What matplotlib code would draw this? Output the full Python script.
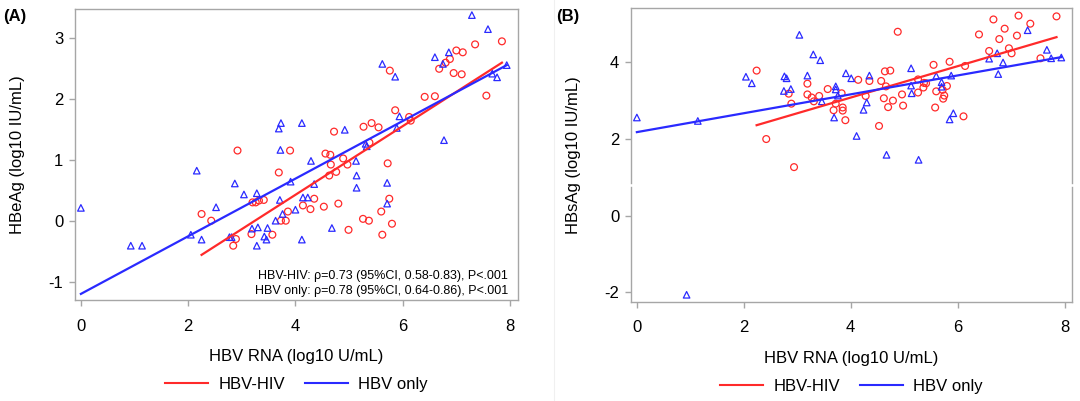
import matplotlib
matplotlib.use("Agg")
import matplotlib.pyplot as plt
from matplotlib.lines import Line2D

plt.rcParams['font.family'] = ['Liberation Sans', 'DejaVu Sans']
plt.rcParams['axes.unicode_minus'] = False

# ---------------- data ----------------
# Panel A: HBeAg vs HBV RNA
a_hiv_x = [2.92, 2.25, 2.43, 2.89, 2.84, 3.18, 3.20, 3.26, 3.32, 3.41,
           7.85, 7.35, 7.00, 7.12, 6.88, 6.80, 6.68, 6.95, 7.10, 7.56, 6.41, 6.60,
           5.76, 5.86, 6.12, 6.15, 5.42, 5.27, 5.55, 4.72, 3.90, 4.56, 4.65, 4.89,
           4.66, 4.97, 4.76, 4.63, 3.69, 5.38, 5.72, 4.35, 5.75, 4.14, 4.28, 4.53,
           4.80, 3.86, 3.82, 3.73, 3.57, 5.26, 5.37, 4.99, 5.60, 5.62, 5.80]
a_hiv_y = [1.16, 0.12, 0.01, -0.29, -0.40, -0.21, 0.31, 0.31, 0.34, 0.35,
           2.95, 2.90, 2.80, 2.77, 2.66, 2.60, 2.50, 2.43, 2.41, 2.06, 2.04, 2.05,
           2.47, 1.82, 1.71, 1.65, 1.61, 1.55, 1.54, 1.47, 1.16, 1.11, 1.09, 1.03,
           0.93, 0.93, 0.81, 0.75, 0.80, 1.29, 0.95, 0.37, 0.37, 0.26, 0.20, 0.24,
           0.29, 0.16, 0.01, 0.01, -0.22, 0.04, 0.01, -0.14, 0.16, -0.22, -0.04]

a_only_x = [0.00, 0.93, 1.14, 2.05, 2.16, 2.25, 2.52, 2.77, 2.81, 2.87, 3.04, 3.19,
            3.28, 3.30, 3.28, 3.42, 3.46, 3.48,
            7.29, 7.59, 7.94, 7.67, 7.76, 6.60, 6.86, 6.75, 5.62, 5.86, 6.77, 5.94,
            5.89, 3.73, 3.69, 4.12, 3.72, 4.92, 4.29, 3.91, 4.35, 3.71, 4.14, 4.23,
            4.00, 3.76, 3.63, 4.12, 4.68, 5.13, 5.14, 5.14, 5.71, 5.71, 5.31, 5.33]
a_only_y = [0.22, -0.40, -0.40, -0.22, 0.83, -0.30, 0.23, -0.26, -0.26, 0.62, 0.44, -0.12,
            0.46, -0.10, -0.40, -0.25, -0.30, -0.11,
            3.38, 3.15, 2.56, 2.42, 2.36, 2.69, 2.77, 2.58, 2.58, 2.37, 1.33, 1.72,
            1.53, 1.61, 1.52, 1.61, 1.17, 1.50, 0.99, 0.65, 0.61, 0.35, 0.39, 0.39,
            0.19, 0.12, 0.01, -0.30, -0.11, 0.99, 0.75, 0.55, 0.63, 0.29, 1.27, 1.23]

# fitted lines (end points)
a_fit_hiv_x = [2.25, 7.85]
a_fit_hiv_y = [-0.55, 2.60]
a_fit_only_x = [0.00, 7.94]
a_fit_only_y = [-1.19, 2.56]

# Panel B: HBsAg vs HBV RNA
b_hiv_x = [2.24, 2.42, 2.94, 2.84, 2.89, 3.19, 3.19, 3.27, 3.31, 3.41, 3.57,
           3.83, 3.72, 3.68, 3.85, 3.85, 3.90, 4.14, 4.35, 4.28, 4.57, 4.64, 4.66,
           4.62, 4.70, 4.53, 4.88, 4.74, 4.79, 4.96, 4.98, 5.26, 5.26, 5.37, 5.41,
           5.36, 5.55, 5.85, 6.14, 5.60, 5.80, 5.72, 5.75, 5.73, 5.58, 6.11, 6.40,
           6.67, 6.88, 6.78, 6.59, 7.14, 7.36, 7.11, 6.96, 7.01, 7.85, 7.55]
b_hiv_y = [3.77, 1.99, 1.26, 3.17, 2.91, 3.43, 3.15, 3.07, 2.97, 3.11, 3.29,
           3.18, 2.91, 2.74, 2.81, 2.73, 2.48, 3.53, 3.50, 3.11, 3.50, 3.75, 3.36,
           3.05, 2.82, 2.33, 4.78, 3.77, 2.99, 3.15, 2.86, 3.54, 3.20, 3.45, 3.44,
           3.33, 3.92, 4.00, 3.89, 3.23, 3.37, 3.27, 3.12, 3.04, 2.81, 2.58, 4.71,
           5.10, 4.86, 4.59, 4.28, 5.20, 4.99, 4.68, 4.35, 4.22, 5.18, 4.09]

b_only_x = [0.00, 1.14, 0.93, 2.04, 2.15, 2.76, 2.80, 2.75, 2.88, 3.04, 3.19, 3.30,
            3.43, 3.46, 3.91, 4.01, 4.35, 3.72, 3.72, 3.76, 4.30, 4.24, 3.69, 4.11,
            4.67, 5.13, 5.13, 5.14, 5.60, 5.70, 5.70, 5.88, 5.92, 5.85, 5.27, 6.59,
            6.74, 6.85, 6.76, 7.31, 7.67, 7.75, 7.94]
b_only_y = [2.55, 2.46, -2.06, 3.61, 3.44, 3.62, 3.57, 3.24, 3.29, 4.70, 3.64, 4.19,
            4.04, 2.97, 3.70, 3.57, 3.64, 3.36, 3.28, 3.12, 2.94, 2.75, 2.55, 2.07,
            1.58, 3.83, 3.38, 3.18, 3.63, 3.47, 3.35, 3.64, 2.66, 2.50, 1.45, 4.08,
            4.22, 3.98, 3.68, 4.82, 4.31, 4.09, 4.11]

b_fit_hiv_x = [2.24, 7.85]
b_fit_hiv_y = [2.35, 4.64]
b_fit_only_x = [0.00, 7.94]
b_fit_only_y = [2.17, 4.12]

x_ticks = [0, 2, 4, 6, 8]
a_y_ticks = [-1, 0, 1, 2, 3]
b_y_ticks = [-2, 0, 2, 4]

series_names = ["HBV-HIV", "HBV only"]
x_label = "HBV RNA (log10 U/mL)"
a_y_label = "HBeAg (log10 IU/mL)"
b_y_label = "HBsAg (log10 IU/mL)"
a_notes = ["HBV-HIV: \u03c1=0.73 (95%CI, 0.58-0.83), P<.001",
           "HBV only: \u03c1=0.78 (95%CI, 0.64-0.86), P<.001"]

# ---------------- style ----------------
RED = '#ff2a2a'
BLUE = '#2a2aff'
FRAME = '#a6a6a6'

fig = plt.figure(figsize=(10.8, 4.01), dpi=100)
W, H = 1080, 401

def px_axes(l, t, r, b):
    return fig.add_axes([l / W, 1 - b / H, (r - l) / W, (b - t) / H])

axA = px_axes(75, 9, 518, 300)
axB = px_axes(631, 8.3, 1072, 301.7)

def style(ax, xl, yl, yt, ylabel, ylab_x):
    for s in ax.spines.values():
        s.set_color(FRAME)
        s.set_linewidth(1.0)
    ax.set_xlim(*xl)
    ax.set_ylim(*yl)
    ax.set_xticks(x_ticks)
    ax.set_yticks(yt)
    ax.tick_params(axis='both', direction='out', length=4.5, width=1.0,
                   color=FRAME, labelsize=12, labelcolor='black')
    ax.tick_params(axis='x', pad=9)
    ax.tick_params(axis='y', pad=4)
    ax.set_xlabel(x_label, fontsize=12)
    ax.xaxis.set_label_coords(0.5, -0.168)
    ax.set_ylabel(ylabel, fontsize=12)
    ax.yaxis.set_label_coords(ylab_x, 0.5)

def draw(ax, hx, hy, ox, oy, fhx, fhy, fox, foy):
    ax.scatter(hx, hy, s=24, marker='o', facecolors='none', edgecolors=RED,
               linewidths=0.9, zorder=3)
    ax.scatter(ox, oy, s=22, marker='^', facecolors='none', edgecolors=BLUE,
               linewidths=0.9, zorder=3)
    ax.plot(fhx, fhy, color=RED, lw=1.6, zorder=4)
    ax.plot(fox, foy, color=BLUE, lw=1.6, zorder=4)
    handles = [Line2D([], [], color=RED, lw=1.5), Line2D([], [], color=BLUE, lw=1.5)]
    ax.legend(handles, series_names, loc='center', bbox_to_anchor=(0.5, -0.29),
              ncol=2, frameon=False, fontsize=12, handlelength=2.6,
              handletextpad=0.6, columnspacing=1.2)

style(axA, (-0.11, 8.15), (-1.29, 3.48), a_y_ticks, a_y_label, -0.113)
draw(axA, a_hiv_x, a_hiv_y, a_only_x, a_only_y,
     a_fit_hiv_x, a_fit_hiv_y, a_fit_only_x, a_fit_only_y)
axA.text(0.977, 0.082, a_notes[0], transform=axA.transAxes, ha='right',
         va='center', fontsize=9)
axA.text(0.977, 0.030, a_notes[1], transform=axA.transAxes, ha='right',
         va='center', fontsize=9)

style(axB, (-0.11, 8.14), (-2.24, 5.39), b_y_ticks, b_y_label, -0.113)
draw(axB, b_hiv_x, b_hiv_y, b_only_x, b_only_y,
     b_fit_hiv_x, b_fit_hiv_y, b_fit_only_x, b_fit_only_y)

# axis break on panel B (gap in left and right frame lines)
brk_lo, brk_hi = 0.39, 0.405
for side in ('left', 'right'):
    axB.spines[side].set_visible(False)
for xa in (0, 1):
    for (y0, y1) in ((0, brk_lo), (brk_hi, 1)):
        axB.add_line(Line2D([xa, xa], [y0, y1], transform=axB.transAxes,
                            color=FRAME, lw=1.0, clip_on=False, zorder=5))

fig.text(3 / W, 1 - 16 / H, "(A)", fontsize=12, fontweight='bold',
         ha='left', va='center')
fig.text(556 / W, 1 - 17 / H, "(B)", fontsize=12, fontweight='bold',
         ha='left', va='center')
fig.add_artist(Line2D([554 / W, 554 / W], [0, 1], transform=fig.transFigure,
                      color='#f0f0f0', lw=0.8))

fig.savefig("out.png", dpi=100)
